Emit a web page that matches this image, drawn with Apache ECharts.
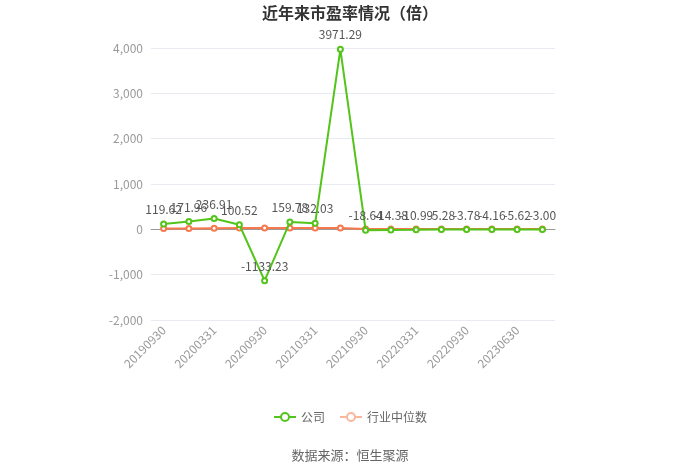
<!DOCTYPE html>
<html><head><meta charset="utf-8">
<script src="https://cdn.jsdelivr.net/npm/echarts@6/dist/echarts.min.js"></script>
<style>html,body{margin:0;padding:0;background:#fff}#c{width:700px;height:473px}</style>
</head><body><div id="c"></div>
<script>
var categories = ['20190930','20191231','20200331','20200630','20200930','20201231','20210331','20210630','20210930','20211231','20220331','20220630','20220930','20221231','20230630','20230930'];
var companyPE = [119.62,171.96,236.91,100.52,-1133.23,159.78,132.03,3971.29,-18.64,-14.38,-10.99,-5.28,-3.78,-4.16,-5.62,-3.00];
var industryPE = [17,20,25,28,30,32,30,28,10,10,9,8,8,7,7,7];
var chart = echarts.init(document.getElementById('c'));
var font = '"Noto Sans CJK SC","Noto Sans",sans-serif';
chart.setOption({
  animation:false,
  textStyle:{fontFamily:font},
  title:{text:'近年来市盈率情况（倍）',left:'center',top:0,textStyle:{fontSize:16,fontWeight:'bold',color:'#333',fontFamily:font}},
  legend:{bottom:45,itemWidth:22,itemHeight:10,itemGap:14,textStyle:{color:'#666',fontSize:12},
    data:[{name:'公司'},{name:'行业中位数',itemStyle:{color:'#fbb79c',borderColor:'#fbb79c'},lineStyle:{color:'#fbb79c'}}]},
  graphic:[{type:'text',left:'center',top:449,style:{text:'数据来源：恒生聚源',fill:'#666',fontSize:13,fontFamily:font}}],
  grid:{left:151,right:145,top:48,bottom:153},
  xAxis:{type:'category',data:categories,boundaryGap:true,
    axisLine:{lineStyle:{color:'#999'}},axisTick:{alignWithLabel:true,lineStyle:{color:'#999'}},
    axisLabel:{rotate:45,interval:1,color:'#999',fontSize:12}},
  yAxis:{type:'value',min:-2000,max:4000,interval:1000,
    axisLabel:{color:'#999',fontSize:12,formatter:function(v){return v.toLocaleString('en-US');}},
    splitLine:{lineStyle:{color:'#e8ebf3'}},axisLine:{show:false},axisTick:{show:false}},
  series:[
    {name:'公司',type:'line',data:companyPE,color:'#52c41a',symbol:'emptyCircle',symbolSize:5,
      lineStyle:{width:2,color:'#52c41a'},itemStyle:{color:'#52c41a'},
      label:{show:true,position:'top',distance:5,color:'#555',fontSize:12,formatter:function(p){return p.value.toFixed(2);}},z:3},
    {name:'行业中位数',type:'line',data:industryPE,color:'#f7794d',symbol:'emptyCircle',symbolSize:5,
      lineStyle:{width:2,color:'#f7794d'},itemStyle:{color:'#f7794d'},z:2}
  ]
});
</script></body></html>
